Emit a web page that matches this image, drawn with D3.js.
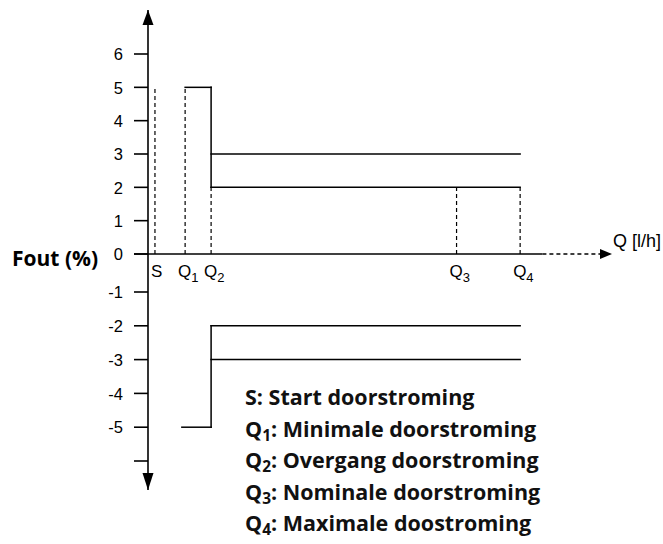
<!DOCTYPE html>
<html>
<head>
<meta charset="utf-8">
<script src="https://cdn.jsdelivr.net/npm/d3@7"></script>
<style>
body { margin: 0; background: #fff; }
</style>
</head>
<body>
<svg width="663" height="544"></svg>
<script>
// y ticks (error in %)
var yTicks = [6, 5, 4, 3, 2, 1, 0, -1, -2, -3, -4, -5, -6]
var yTickLabels = ["6", "5", "4", "3", "2", "1", "0", "-1", "-2", "-3", "-4", "-5", ""]

// flow points on the Q axis
var qNames = ["S", "Q", "Q", "Q", "Q"]
var qSubs = ["", "1", "2", "3", "4"]
var qValues = [1.5, 8, 13.6, 66.5, 80.2]

// dashed guide heights at each flow point
var guideTop = [5, 5, 2, 2, 2]

// upper limit lines: [x1, y1, x2, y2] in data units
var upperLines = [
    [8, 5, 13.6, 5],
    [13.6, 5, 13.6, 2],
    [13.6, 3, 80.2, 3],
    [13.6, 2, 80.2, 2]
]
// lower limit lines
var lowerLines = [
    [7.3, -5, 13.6, -5],
    [13.6, -5, 13.6, -2],
    [13.6, -2, 80.2, -2],
    [13.6, -3, 80.2, -3]
]

var legendLines = [
    ["S", "", ": Start doorstroming"],
    ["Q", "1", ": Minimale doorstroming"],
    ["Q", "2", ": Overgang doorstroming"],
    ["Q", "3", ": Nominale doorstroming"],
    ["Q", "4", ": Maximale doostroming"]
]

var svg = d3.select("svg")

var x = d3.scaleLinear().domain([0, 100]).range([148, 612])
var y = d3.scaleLinear().domain([-6, -1, 0, 6]).range([461, 292, 254, 54])

// arrow heads
var defs = svg.append("defs")
defs.append("marker")
    .attr("id", "arr")
    .attr("viewBox", "0 0 10 10")
    .attr("refX", 10).attr("refY", 5)
    .attr("markerWidth", 12).attr("markerHeight", 10)
    .attr("markerUnits", "userSpaceOnUse")
    .attr("orient", "auto")
    .attr("preserveAspectRatio", "none")
    .append("path").attr("d", "M0,0 L10,5 L0,10 Z").style("fill", "#000")

// y axis line with arrows at both ends
svg.append("line")
    .attr("x1", x(0)).attr("x2", x(0))
    .attr("y1", y(-6) + 29).attr("y2", y(6) - 44)
    .style("stroke", "#000").style("stroke-width", 1.6)
svg.append("path")
    .attr("d", "M" + x(0) + "," + (y(6) - 44) + " l-5.5,15 l11,0 Z")
    .style("fill", "#000")
svg.append("path")
    .attr("d", "M" + x(0) + "," + (y(-6) + 29) + " l-5.5,-17 l11,0 Z")
    .style("fill", "#000")

// y ticks
var tick = svg.append("g").selectAll("g").data(yTicks).enter().append("g")
tick.append("line")
    .attr("x1", x(0) - 14).attr("x2", x(0))
    .attr("y1", function(d){return y(d);}).attr("y2", function(d){return y(d);})
    .style("stroke", "#000").style("stroke-width", 1.6)
tick.append("text")
    .attr("x", x(0) - 25)
    .attr("y", function(d){return y(d);})
    .attr("dy", "0.38em")
    .attr("text-anchor", "end")
    .style("font-family", "'Liberation Sans', Arial, sans-serif")
    .style("font-size", "16.5px")
    .text(function(d, i){return yTickLabels[i];})

// x axis: solid part then dotted part with arrow
svg.append("line")
    .attr("x1", x(0) - 14).attr("x2", x(85))
    .attr("y1", y(0)).attr("y2", y(0))
    .style("stroke", "#000").style("stroke-width", 1.6)
svg.append("line")
    .attr("x1", x(85)).attr("x2", x(100))
    .attr("y1", y(0)).attr("y2", y(0))
    .style("stroke", "#000").style("stroke-width", 1.6)
    .style("stroke-dasharray", "4,3")
    .attr("marker-end", "url(#arr)")

svg.append("text")
    .attr("x", x(100) + 1).attr("y", y(0) - 7)
    .style("font-family", "'Liberation Sans', Arial, sans-serif")
    .style("font-size", "18px")
    .text("Q [l/h]")

svg.append("text")
    .attr("x", 12).attr("y", y(0) + 12)
    .style("font-family", "'Open Sans', sans-serif")
    .style("font-weight", "700")
    .style("font-size", "21px")
    .text("Fout (%)")

// dashed guides
svg.append("g").selectAll("line").data(qValues).enter().append("line")
    .attr("x1", function(d){return x(d);}).attr("x2", function(d){return x(d);})
    .attr("y1", y(0)).attr("y2", function(d, i){return y(guideTop[i]);})
    .style("stroke", "#000").style("stroke-width", 1.2)
    .style("stroke-dasharray", "4,3")

// Q labels under the axis
var ql = svg.append("g").selectAll("text").data(qValues).enter().append("text")
    .attr("x", function(d, i){return x(d) - (i == 0 ? 4 : 7);})
    .attr("y", y(0) + 23)
    .style("font-family", "'Liberation Sans', Arial, sans-serif")
    .style("font-size", "17px")
ql.append("tspan").text(function(d, i){return qNames[i];})
ql.append("tspan").attr("dy", 5).style("font-size", "13px").text(function(d, i){return qSubs[i];})

// limit lines
function drawLines(data){
    svg.append("g").selectAll("line").data(data).enter().append("line")
        .attr("x1", function(d){return x(d[0]);}).attr("y1", function(d){return y(d[1]);})
        .attr("x2", function(d){return x(d[2]);}).attr("y2", function(d){return y(d[3]);})
        .style("stroke", "#000").style("stroke-width", 1.5)
        .style("stroke-linecap", "square")
}
drawLines(upperLines)
drawLines(lowerLines)

// legend
var lg = svg.append("g").selectAll("text").data(legendLines).enter().append("text")
    .attr("x", 245)
    .attr("y", function(d, i){return 405 + i * 31.5;})
    .style("font-family", "'Open Sans', sans-serif")
    .style("font-weight", "700")
    .style("font-size", "21.5px")
    .style("fill", "#111")
lg.append("tspan").text(function(d){return d[0];})
lg.append("tspan").attr("dy", 4).style("font-size", "15.5px").text(function(d){return d[1];})
lg.append("tspan").attr("dy", function(d){return d[1] ? -4 : 0;}).text(function(d){return d[2];})
</script>
</body>
</html>
